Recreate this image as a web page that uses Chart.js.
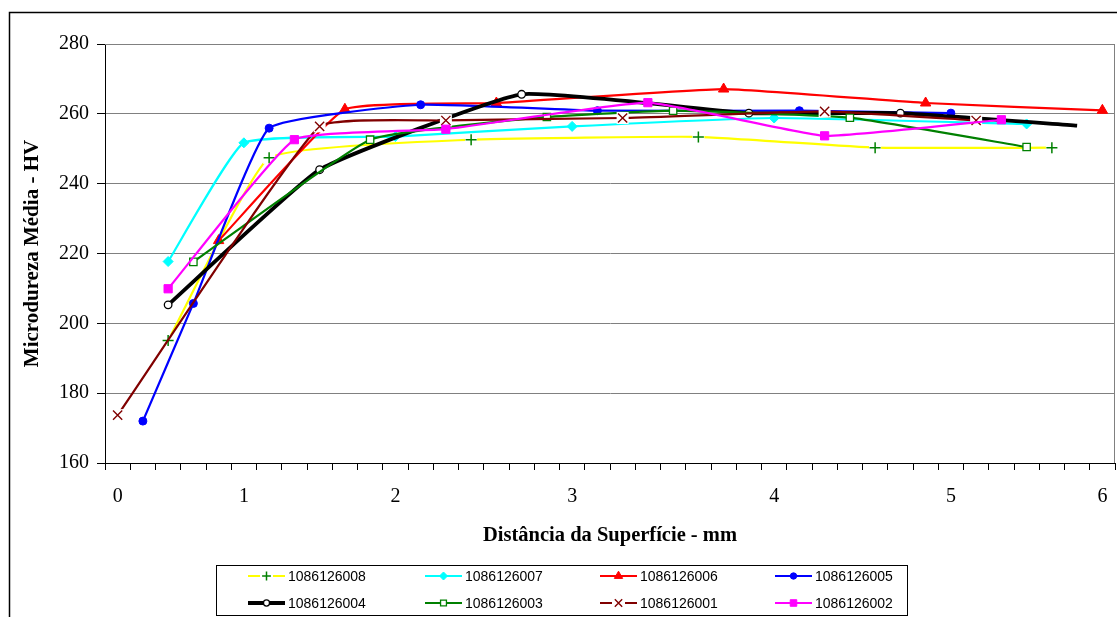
<!DOCTYPE html>
<html>
<head>
<meta charset="utf-8">
<script src="https://cdn.jsdelivr.net/npm/chart.js@4.4.0/dist/chart.umd.min.js"></script>
<style>
  html, body { margin: 0; padding: 0; background: #fff; }
  #wrap { width: 1117px; height: 617px; }
</style>
</head>
<body>
<div id="wrap"><canvas id="chart" width="1117" height="617"></canvas></div>
<script>
// --- DATA ---
const _ = null;

// 40 categories on the x axis, only some of them carry a label
const xLabels = [
  '0', '', '', '', '', '1', '', '', '', '',
  '', '2', '', '', '', '', '', '', '3', '',
  '', '', '', '', '', '', '4', '', '', '',
  '', '', '', '5', '', '', '', '', '', '6'
];
const yTicks = [160, 180, 200, 220, 240, 260, 280];

const seriesNames = ['1086126008', '1086126007', '1086126006', '1086126005',
                     '1086126004', '1086126003', '1086126001', '1086126002'];

const s008 = [_,_,195.1,_,_,_,247.4,_,_,_,  _,_,_,_,252.6,_,_,_,_,_,  _,_,_,253.4,_,_,_,_,_,_,  250.3,_,_,_,_,_,_,250.3,_,_];
const s007 = [_,_,217.7,_,_,251.7,_,_,_,_,  _,253.5,_,_,_,_,_,_,256.4,_,  _,_,_,_,_,_,258.8,_,_,_,  _,_,_,_,_,_,257.1,_,_,_];
const s006 = [_,_,_,_,223.7,_,_,_,_,261.3,  _,_,_,_,_,263.1,_,_,_,_,  _,_,_,_,267.1,_,_,_,_,_,  _,_,263.1,_,_,_,_,_,_,261.0];
const s005 = [_,172.0,_,205.7,_,_,255.9,_,_,_,  _,_,262.6,_,_,_,_,_,_,260.9,  _,_,_,_,_,_,_,260.9,_,_,  _,_,_,260.2,_,_,_,_,_,_];
const s004 = [_,_,205.3,_,_,_,_,_,244.0,_,  _,_,_,_,_,_,265.6,_,_,_,  _,_,_,_,_,260.2,_,_,_,_,  _,260.2,_,_,_,_,_,_,256.6,_];
const s003 = [_,_,_,217.6,_,_,_,_,_,_,  252.6,_,_,_,_,_,_,259.1,_,_,  _,_,260.9,_,_,_,_,_,_,258.9,  _,_,_,_,_,_,250.5,_,_,_];
const s001 = [173.7,_,_,_,_,_,_,_,256.4,_,  _,_,_,258.1,_,_,_,_,_,_,  258.8,_,_,_,_,_,_,_,260.7,_,  _,_,_,_,258.1,_,_,_,_,_];
const s002 = [_,_,209.9,_,_,_,_,252.6,_,_,  _,_,_,255.6,_,_,_,_,_,_,  _,263.2,_,_,_,_,_,_,253.7,_,  _,_,_,_,_,258.3,_,_,_,_];

const seriesValues = [s008, s007, s006, s005, s004, s003, s001, s002];

// --- STYLES ---
const SERIF = "'Liberation Serif', 'Times New Roman', serif";
const SANS = "'Liberation Sans', Arial, sans-serif";

const looks = [
  { line: '#FFFF00', width: 2.2, style: 'cross',    r: 5.5, fill: '#008000', edge: '#008000', bw: 1.5, box: true },
  { line: '#00FFFF', width: 2.2, style: 'rectRot',  r: 5,   fill: '#00FFFF', edge: '#00FFFF', bw: 1 },
  { line: '#FF0000', width: 2.2, style: 'triangle', r: 6,   fill: '#FF0000', edge: '#FF0000', bw: 1 },
  { line: '#0000FF', width: 2.2, style: 'circle',   r: 4,   fill: '#0000FF', edge: '#0000FF', bw: 1 },
  { line: '#000000', width: 3.8, style: 'circle',   r: 3.8, fill: '#FFFFFF', edge: '#000000', bw: 1.3 },
  { line: '#008000', width: 2.2, style: 'rect',     r: 5.2, fill: '#FFFFFF', edge: '#008000', bw: 1.3 },
  { line: '#800000', width: 2.2, style: 'crossRot', r: 6.5, fill: '#800000', edge: '#800000', bw: 1.4, box: true },
  { line: '#FF00FF', width: 2.2, style: 'rect',     r: 5.8, fill: '#FF00FF', edge: '#FF00FF', bw: 1 }
];

// last point of a series, used to drop the marker where the reference shows none
function lastIndex(arr) {
  for (let i = arr.length - 1; i >= 0; i--) if (arr[i] !== null) return i;
  return -1;
}
const noMarker = { 4: lastIndex(s004) };

const datasets = seriesNames.map((name, i) => {
  const lk = looks[i];
  return {
    label: name,
    data: seriesValues[i],
    borderColor: lk.line,
    borderWidth: lk.width,
    pointStyle: lk.style,
    pointRadius: ctx => (noMarker[i] === ctx.dataIndex ? 0 : lk.r),
    legendRadius: lk.r * 0.8,
    pointBackgroundColor: lk.fill,
    pointBorderColor: lk.edge,
    pointBorderWidth: lk.bw,
    whiteBox: !!lk.box,
    spanGaps: true,
    tension: 0.12,
    fill: false,
    clip: 8,
    order: seriesNames.length - i
  };
});

// --- PLUGINS ---
const frame = {
  id: 'frame',
  beforeDraw(chart) {
    const c = chart.ctx;
    c.save();
    c.fillStyle = '#fff';
    c.fillRect(0, 0, chart.width, chart.height);
    c.strokeStyle = '#000';
    c.lineWidth = 1.5;
    c.beginPath();
    c.moveTo(9.5, chart.height);
    c.lineTo(9.5, 12.5);
    c.lineTo(chart.width, 12.5);
    c.stroke();
    c.restore();
  },
  beforeDatasetsDraw(chart) {
    const c = chart.ctx, a = chart.chartArea;
    c.save();
    c.strokeStyle = '#808080';
    c.lineWidth = 1;
    c.beginPath();
    c.moveTo(a.left, a.top + 0.5);
    c.lineTo(a.right - 0.5, a.top + 0.5);
    c.lineTo(a.right - 0.5, a.bottom);
    c.stroke();
    c.restore();
  }
};

// white square behind + and x markers, like the reference
const markerBox = {
  id: 'markerBox',
  afterDatasetDraw(chart, args) {
    const ds = chart.data.datasets[args.index];
    if (!ds.whiteBox) return;
    const c = chart.ctx;
    args.meta.data.forEach(pt => {
      if (pt.skip) return;
      c.save();
      c.fillStyle = '#fff';
      c.fillRect(pt.x - 6, pt.y - 6, 12, 12);
      c.restore();
      pt.draw(c, chart.chartArea);
    });
  }
};

const legendCols = [248, 425, 600, 775];
const legendRows = [576, 603];

const boxLegend = {
  id: 'boxLegend',
  afterDraw(chart) {
    const c = chart.ctx;
    c.save();
    c.strokeStyle = '#000';
    c.lineWidth = 1;
    c.strokeRect(216.5, 565.5, 691, 50);
    c.font = '14px ' + SANS;
    c.textBaseline = 'middle';
    chart.data.datasets.forEach((ds, i) => {
      const x = legendCols[i % 4], y = legendRows[Math.floor(i / 4)];
      c.strokeStyle = ds.borderColor;
      c.lineWidth = ds.borderWidth;
      c.beginPath();
      c.moveTo(x, y);
      c.lineTo(x + 37, y);
      c.stroke();
      if (ds.whiteBox) {
        c.fillStyle = '#fff';
        c.fillRect(x + 12, y - 6, 13, 12);
      }
      c.fillStyle = ds.pointBackgroundColor;
      c.strokeStyle = ds.pointBorderColor;
      c.lineWidth = ds.pointBorderWidth;
      Chart.helpers.drawPoint(c, {
        pointStyle: ds.pointStyle, radius: ds.legendRadius,
        borderWidth: ds.pointBorderWidth, rotation: 0
      }, x + 18.5, y);
      c.fillStyle = '#000';
      c.fillText(ds.label, x + 40, y + 1);
    });
    c.restore();
  }
};

// --- CHART ---
new Chart(document.getElementById('chart'), {
  type: 'line',
  data: { labels: xLabels, datasets },
  plugins: [frame, markerBox, boxLegend],
  options: {
    responsive: false,
    animation: false,
    layout: { autoPadding: false, padding: { left: 0, right: 2, top: 44, bottom: 0 } },
    plugins: { legend: { display: false }, tooltip: { enabled: false } },
    scales: {
      x: {
        type: 'category',
        offset: true,
        grid: { offset: true, drawOnChartArea: false, tickLength: 7, tickColor: '#000', tickWidth: 1 },
        border: { color: '#000', width: 1 },
        // padding 0 keeps the plot full width; the tall line height pushes labels down
        ticks: { autoSkip: false, maxRotation: 0, padding: 0, color: '#000',
                 font: { family: SERIF, size: 20, lineHeight: 2.7 } },
        title: {
          display: true, text: 'Distância da Superfície - mm', color: '#000',
          font: { family: SERIF, size: 20.5, weight: 'bold' }, padding: { top: 0, bottom: 69 }
        },
        afterFit: s => { s.height = 154; }
      },
      y: {
        min: yTicks[0],
        max: yTicks[yTicks.length - 1],
        afterBuildTicks: s => { s.ticks = yTicks.map(v => ({ value: v })); },
        grid: { color: '#808080', tickColor: '#000', tickLength: 8 },
        border: { color: '#000', width: 1 },
        ticks: { padding: 8, color: '#000', font: { family: SERIF, size: 20 } },
        title: {
          display: true, text: 'Microdureza Média - HV', color: '#000',
          font: { family: SERIF, size: 21, weight: 'bold' }, padding: { top: 20, bottom: 0 }
        },
        afterFit: s => { s.width = 105; }
      }
    }
  }
});
</script>
</body>
</html>
